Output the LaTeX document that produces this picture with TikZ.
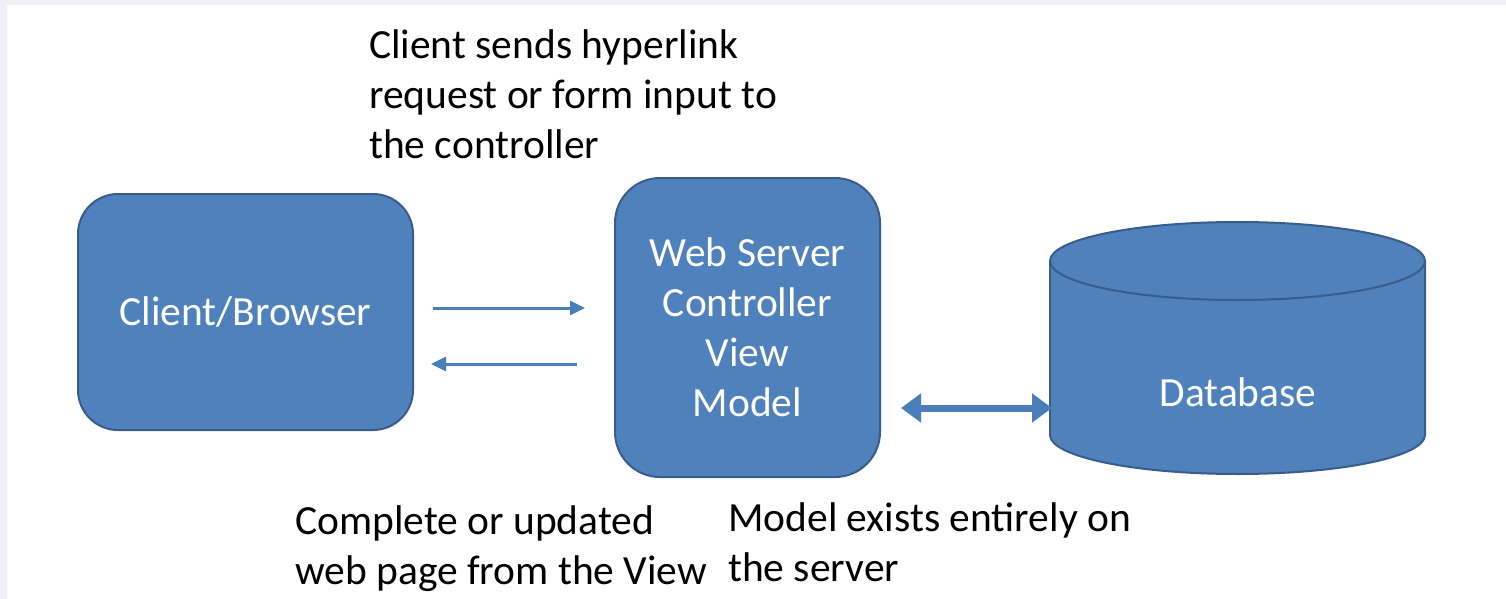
\documentclass[tikz,border=0pt]{standalone}
\usepackage{fontspec}
\setmainfont{Carlito}
\usetikzlibrary{arrows.meta}
\definecolor{bgray}{HTML}{EFF0F5}
\definecolor{boxfill}{HTML}{4F81BD}
\definecolor{boxline}{HTML}{385D8A}
\definecolor{arrowc}{HTML}{4A7EBB}
\tikzset{
  blockbox/.style={draw=boxline, line width=2pt, fill=boxfill, rounded corners=40pt, text=white, align=center, font=\fontsize{41.5}{50}\selectfont, inner sep=0pt},
  note/.style={align=left, font=\fontsize{41.5}{50}\selectfont, inner sep=0pt, anchor=base west, text=black},
  thinarrow/.style={draw=arrowc, line width=3pt, -{Triangle[length=15pt,width=14pt]}},
  fatarrow/.style={draw=arrowc, line width=7pt, {Triangle[length=20pt,width=28pt]}-{Triangle[length=20pt,width=28pt]}}
}
\begin{document}
\begin{tikzpicture}[x=1pt,y=-1pt]
\useasboundingbox (0,0) rectangle (1506,599);
\fill[bgray] (0,0) rectangle (1506,599);
\fill[white] (7,5) rectangle (1506,599);
% client
\node[blockbox, minimum width=335pt, minimum height=236pt] (client) at (245.5,312) {Client/Browser};
% server
\node[blockbox, minimum width=265pt, minimum height=299pt, rounded corners=45pt] (server) at (747.5,327.5) {Web Server\\Controller\\View\\Model};
% database cylinder
\path[draw=boxline, line width=2pt, fill=boxfill] (1050,261) -- (1050,435) arc[start angle=180, end angle=0, x radius=187.5, y radius=39] -- (1425,261) arc[start angle=0, end angle=-180, x radius=187.5, y radius=39] -- cycle;
\draw[boxline, line width=2pt] (1050,261) arc[start angle=180, end angle=0, x radius=187.5, y radius=39];
\node[inner sep=0pt, minimum width=375pt, minimum height=252pt] (db) at (1237.5,348) {};
\node[text=white, font=\fontsize{41.5}{50}\selectfont, inner sep=0pt] (dblabel) at (1238,392) {Database};
% arrows
\coordinate (a1s) at (433,308);
\coordinate (a1e) at (585,308);
\coordinate (a2s) at (577,364);
\coordinate (a2e) at (431,364);
\coordinate (a3s) at (901,408);
\coordinate (a3e) at (1052,408);
\draw[thinarrow] (a1s) -- (a1e);
\draw[thinarrow] (a2s) -- (a2e);
\draw[fatarrow] (a3s) -- (a3e);
% notes
\node[note] (n1) at (369,158) {Client sends hyperlink\\request or form input to\\the controller};
\node[note] (n2) at (295,584) {Complete or updated\\web page from the View};
\node[note] (n3) at (728,581) {Model exists entirely on\\the server};
\end{tikzpicture}
\end{document}
